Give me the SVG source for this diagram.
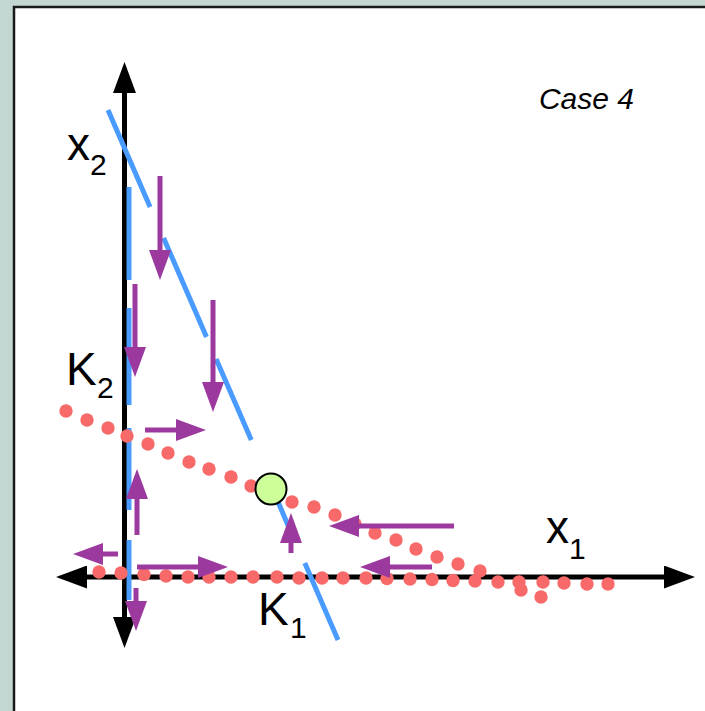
<svg xmlns="http://www.w3.org/2000/svg" width="705" height="711" viewBox="0 0 705 711">
<defs>
<style>
.ax{stroke:#000;stroke-width:5;fill:none}
.bl{stroke:#4a9bff;stroke-width:5;fill:none}
.pu{stroke:#9b399e;stroke-width:5;fill:none;marker-end:url(#ph)}
.dt{fill:#f86a6a}
.lb{font-family:"Liberation Sans",Arial,sans-serif;fill:#000}
</style>
<marker id="ph" viewBox="0 0 30 22" refX="0" refY="11" markerWidth="30" markerHeight="22" markerUnits="userSpaceOnUse" orient="auto">
<path d="M0,0 L30,11 L0,22 Z" fill="#9b399e"/>
</marker>
<marker id="ah" viewBox="0 0 31 23" refX="0" refY="11.5" markerWidth="31" markerHeight="23" markerUnits="userSpaceOnUse" orient="auto">
<path d="M0,0 L31,11.5 L0,23 Z" fill="#000"/>
</marker>
</defs>
<rect x="0" y="0" width="705" height="711" fill="#c3d8d2"/>
<rect x="14" y="7" width="720" height="730" fill="#fff" stroke="#1a1a1a" stroke-width="2.5"/>

<g id="axes">
<line class="ax" x1="124.5" y1="577" x2="124.5" y2="93" marker-end="url(#ah)"/>
<line class="ax" x1="124.5" y1="577" x2="124.5" y2="617" marker-end="url(#ah)"/>
<line class="ax" x1="124.5" y1="577" x2="87" y2="577" marker-end="url(#ah)"/>
<line class="ax" x1="124.5" y1="577" x2="664" y2="577" marker-end="url(#ah)"/>
</g>

<g id="x2-nullcline">
<line class="bl" x1="108" y1="110" x2="150.1" y2="207"/>
<line class="bl" x1="163.6" y1="238" x2="206.5" y2="337"/>
<line class="bl" x1="216.1" y1="359" x2="251.3" y2="440"/>
<line class="bl" x1="273" y1="490" x2="290" y2="530"/>
<line class="bl" x1="304.8" y1="563" x2="338" y2="640"/>
<line class="bl" x1="129" y1="187" x2="129" y2="280"/>
<line class="bl" x1="129" y1="308" x2="129" y2="405"/>
<line class="bl" x1="129" y1="428" x2="129" y2="510"/>
<line class="bl" x1="129" y1="540" x2="129" y2="600"/>
</g>

<g id="x1-nullcline">
<circle class="dt" cx="66" cy="411" r="6.7"/>
<circle class="dt" cx="87" cy="420" r="6.7"/>
<circle class="dt" cx="108" cy="428" r="6.7"/>
<circle class="dt" cx="127" cy="436" r="6.7"/>
<circle class="dt" cx="148" cy="444" r="6.7"/>
<circle class="dt" cx="168" cy="453" r="6.7"/>
<circle class="dt" cx="189" cy="462" r="6.7"/>
<circle class="dt" cx="209" cy="469" r="6.7"/>
<circle class="dt" cx="231" cy="477" r="6.7"/>
<circle class="dt" cx="251" cy="486" r="6.7"/>
<circle class="dt" cx="292" cy="502" r="6.7"/>
<circle class="dt" cx="314" cy="507" r="6.7"/>
<circle class="dt" cx="335" cy="515" r="6.7"/>
<circle class="dt" cx="355" cy="524" r="6.7"/>
<circle class="dt" cx="375" cy="533" r="6.7"/>
<circle class="dt" cx="396" cy="540" r="6.7"/>
<circle class="dt" cx="416" cy="549" r="6.7"/>
<circle class="dt" cx="437" cy="557" r="6.7"/>
<circle class="dt" cx="458" cy="564" r="6.7"/>
<circle class="dt" cx="480" cy="571" r="6.7"/>
<circle class="dt" cx="521" cy="590" r="6.7"/>
<circle class="dt" cx="541" cy="597" r="6.7"/>
<circle class="dt" cx="99" cy="572" r="6.7"/>
<circle class="dt" cx="121" cy="573" r="6.7"/>
<circle class="dt" cx="144" cy="574.5" r="6.7"/>
<circle class="dt" cx="166" cy="576" r="6.7"/>
<circle class="dt" cx="188" cy="577" r="6.7"/>
<circle class="dt" cx="209" cy="577" r="6.7"/>
<circle class="dt" cx="231" cy="577" r="6.7"/>
<circle class="dt" cx="253" cy="577" r="6.7"/>
<circle class="dt" cx="277" cy="577" r="6.7"/>
<circle class="dt" cx="299" cy="578" r="6.7"/>
<circle class="dt" cx="322" cy="578" r="6.7"/>
<circle class="dt" cx="343" cy="578" r="6.7"/>
<circle class="dt" cx="366" cy="578" r="6.7"/>
<circle class="dt" cx="387" cy="578.5" r="6.7"/>
<circle class="dt" cx="410" cy="579" r="6.7"/>
<circle class="dt" cx="432" cy="579.5" r="6.7"/>
<circle class="dt" cx="453" cy="580.5" r="6.7"/>
<circle class="dt" cx="475" cy="581" r="6.7"/>
<circle class="dt" cx="498" cy="582" r="6.7"/>
<circle class="dt" cx="519" cy="582" r="6.7"/>
<circle class="dt" cx="543" cy="582" r="6.7"/>
<circle class="dt" cx="564" cy="583" r="6.7"/>
<circle class="dt" cx="587" cy="584" r="6.7"/>
<circle class="dt" cx="608" cy="584" r="6.7"/>
</g>

<g id="flow-arrows">
<line class="pu" x1="160" y1="176" x2="160" y2="250"/>
<line class="pu" x1="135" y1="284" x2="135" y2="347"/>
<line class="pu" x1="213" y1="300" x2="213" y2="382"/>
<line class="pu" x1="145" y1="430" x2="176" y2="430"/>
<line class="pu" x1="137" y1="535" x2="137" y2="499"/>
<line class="pu" x1="118" y1="554" x2="103" y2="554"/>
<line class="pu" x1="137" y1="567" x2="198" y2="567"/>
<line class="pu" x1="136" y1="588" x2="136" y2="601"/>
<line class="pu" x1="291" y1="553" x2="291" y2="543"/>
<line class="pu" x1="454" y1="526" x2="359" y2="526"/>
<line class="pu" x1="432" y1="567" x2="390" y2="567"/>
</g>

<g id="equilibrium">
<circle cx="271" cy="489" r="15.5" fill="#ccff99" stroke="#000" stroke-width="2"/>
</g>

<g id="labels">
<text class="lb" x="67" y="160" font-size="46">x</text>
<text class="lb" x="90" y="175" font-size="30">2</text>
<text class="lb" x="66" y="385" font-size="46">K</text>
<text class="lb" x="97" y="398" font-size="30">2</text>
<text class="lb" x="546" y="543" font-size="46">x</text>
<text class="lb" x="569" y="559" font-size="30">1</text>
<text class="lb" x="258" y="625" font-size="46">K</text>
<text class="lb" x="290" y="638" font-size="30">1</text>
<text class="lb" x="634" y="109" font-size="30" font-style="italic" text-anchor="end" fill="#333">Case 4</text>
</g>
</svg>
